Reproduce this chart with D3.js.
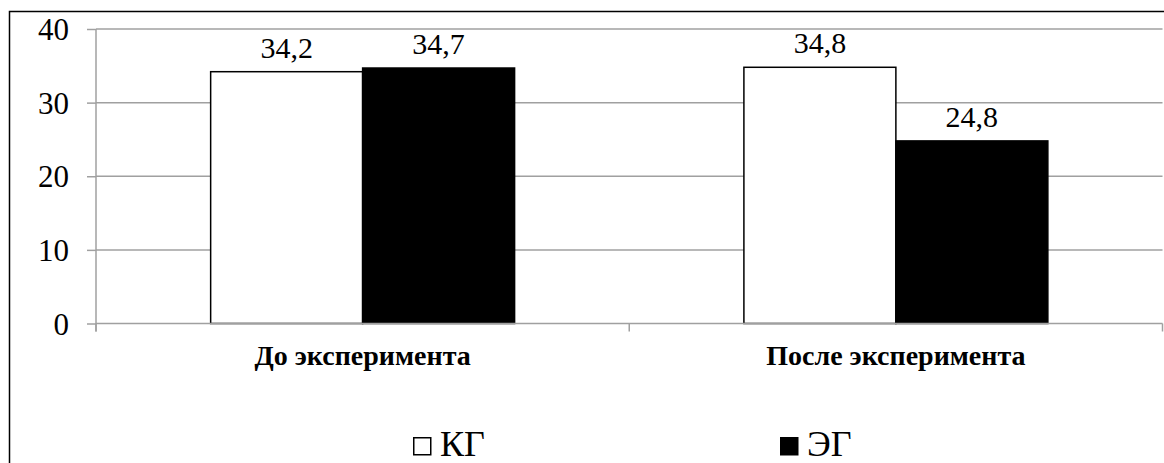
<!DOCTYPE html>
<html>
<head>
<meta charset="utf-8">
<script src="https://cdn.jsdelivr.net/npm/d3@7"></script>
<style>
  html, body { margin: 0; padding: 0; background: #fff; }
  svg text { font-family: 'Liberation Serif', 'Times New Roman', Tinos, serif; }
</style>
</head>
<body>
<svg id="chart" width="1164" height="463"></svg>
<script>
// Chart data
const categories = ["До эксперимента", "После эксперимента"];
const seriesNames = ["КГ", "ЭГ"];
const kgValues = [34.2, 34.8];
const egValues = [34.7, 24.8];
const valueLabels = [["34,2", "34,7"], ["34,8", "24,8"]];
const yTicks = [0, 10, 20, 30, 40];

const seriesFill = ["#ffffff", "#000000"];
const gridColor = "#a0a0a0";
const FONT = "'Liberation Serif', 'Times New Roman', Tinos, serif";

const svg = d3.select("#chart");
const W = 1164, H = 463;
const plot = { left: 96, right: 1162.5, top: 29, bottom: 323.5 };

// Outer frame of the chart area
svg.append("rect")
  .attr("x", 9.5).attr("y", 11.5)
  .attr("width", W + 10).attr("height", H + 10)
  .attr("fill", "#fff").attr("stroke", "#000").attr("stroke-width", 1.5);

const y = d3.scaleLinear().domain([0, 40]).range([plot.bottom, plot.top]);
const x0 = d3.scaleBand().domain(categories).range([plot.left, plot.right]).padding(0);
const barW = x0.bandwidth() * 0.285;
const x1 = d3.scaleBand().domain(seriesNames)
  .range([x0.bandwidth() / 2 - barW, x0.bandwidth() / 2 + barW]).padding(0);

// Horizontal gridlines
svg.append("g").selectAll("line").data(yTicks.filter(d => d > 0)).join("line")
  .attr("x1", plot.left).attr("x2", plot.right)
  .attr("y1", d => y(d)).attr("y2", d => y(d))
  .attr("stroke", gridColor).attr("stroke-width", 1.5);

// Y axis
const yAxis = svg.append("g")
  .attr("transform", `translate(${plot.left},0)`)
  .call(d3.axisLeft(y).tickValues(yTicks).tickSize(9).tickPadding(18).tickFormat(d3.format("d")))
  .attr("font-family", null).attr("font-size", null);
yAxis.select(".domain").attr("stroke", gridColor).attr("stroke-width", 1.5)
  .attr("d", `M0,${plot.top}V${plot.bottom + 8}`);
yAxis.selectAll(".tick line").attr("stroke", gridColor).attr("stroke-width", 1.5);
yAxis.selectAll(".tick text")
  .style("font-family", FONT).style("font-size", "31px")
  .attr("fill", "#000").attr("dy", "0.34em");

// Bars
const rows = categories.map((c, i) => ({ cat: c, vals: [kgValues[i], egValues[i]], labels: valueLabels[i] }));
const groups = svg.append("g").selectAll("g").data(rows).join("g")
  .attr("transform", d => `translate(${x0(d.cat)},0)`);

groups.selectAll("rect").data(d => d.vals.map((v, j) => ({ v, s: seriesNames[j], j }))).join("rect")
  .attr("x", d => x1(d.s))
  .attr("y", d => y(d.v))
  .attr("width", x1.bandwidth())
  .attr("height", d => y(0) - y(d.v))
  .attr("fill", d => seriesFill[d.j])
  .attr("stroke", "#000").attr("stroke-width", 1.5);

// Value labels above bars
groups.selectAll("text").data(d => d.vals.map((v, j) => ({ v, s: seriesNames[j], t: d.labels[j] }))).join("text")
  .attr("x", d => x1(d.s) + x1.bandwidth() / 2)
  .attr("y", d => y(d.v) - 14)
  .attr("text-anchor", "middle")
  .style("font-family", FONT).style("font-size", "30px")
  .attr("fill", "#000")
  .text(d => d.t);

// Category axis (baseline with boundary ticks)
const xAxis = svg.append("g");
xAxis.append("line")
  .attr("x1", plot.left).attr("x2", plot.right)
  .attr("y1", plot.bottom).attr("y2", plot.bottom)
  .attr("stroke", gridColor).attr("stroke-width", 1.5);
const bounds = categories.map(c => x0(c)).concat([x0(categories[categories.length - 1]) + x0.bandwidth()]);
xAxis.selectAll("line.tk").data(bounds).join("line").attr("class", "tk")
  .attr("x1", d => d).attr("x2", d => d)
  .attr("y1", plot.bottom).attr("y2", plot.bottom + 8)
  .attr("stroke", gridColor).attr("stroke-width", 1.5);
xAxis.selectAll("text").data(categories).join("text")
  .attr("x", d => x0(d) + x0.bandwidth() / 2)
  .attr("y", 365)
  .attr("text-anchor", "middle")
  .style("font-family", FONT).style("font-size", "28px").style("font-weight", "bold")
  .attr("fill", "#000")
  .text(d => d);

// Legend
const legendX = [413, 780];
const legend = svg.append("g").selectAll("g").data(seriesNames).join("g")
  .attr("transform", (d, i) => `translate(${legendX[i]},0)`);
legend.append("rect")
  .attr("x", 0.75).attr("y", 437.75).attr("width", 17).attr("height", 17)
  .attr("fill", (d, i) => seriesFill[i]).attr("stroke", "#000").attr("stroke-width", 1.5);
legend.append("text")
  .attr("x", 27).attr("y", 456)
  .style("font-family", FONT).style("font-size", "36px")
  .attr("fill", "#000")
  .text(d => d);
</script>
</body>
</html>
